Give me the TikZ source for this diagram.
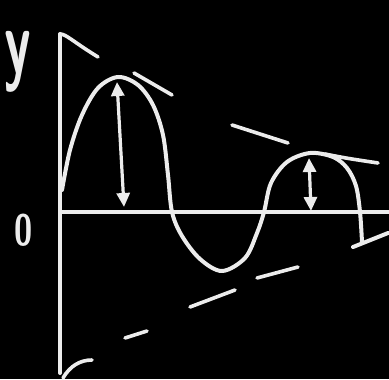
\documentclass[tikz,border=0pt]{standalone}
\usepackage{tikz}
\usetikzlibrary{arrows.meta}
\definecolor{chalk}{RGB}{236,236,236}

\begin{document}
\begin{tikzpicture}[
    x=0.5pt, y=-0.5pt,
    chalkline/.style={draw=chalk, line width=2pt, line cap=round, line join=round},
    envline/.style={chalkline, line width=1.8pt},
    ampl/.style={chalkline, line width=1.6pt, {Triangle[length=7pt,width=6.5pt]}-{Triangle[length=7pt,width=6.5pt]}},
    lbl/.style={text=chalk, font=\sffamily\bfseries, inner sep=0pt}
]

% board
\fill[black] (0,0) rectangle (389,379);
\useasboundingbox (0,0) rectangle (389,379);

% axes
\coordinate (ytop) at (60,34);
\coordinate (ybot) at (60,373);
\coordinate (xleft) at (60,212);
\coordinate (xright) at (389,212);
\draw[chalkline] (ybot) -- (ytop);
\draw[chalkline] (xleft) -- (xright);

\node[lbl, font=\sffamily\bfseries\fontsize{46}{46}\selectfont, xscale=0.58] (ylabel) at (18,62) {y};
\node[lbl, font=\sffamily\bfseries\fontsize{22}{22}\selectfont, xscale=0.75] (zero) at (24,230) {0};

% damped wave
\draw[chalkline] plot[smooth, tension=0.55] coordinates {
    (62,190) (70,150) (82,115) (98,88) (118,77) (138,85) (153,105)
    (163,135) (168,175) (172,212) (182,236) (200,259) (222,271)
    (245,258) (257,233) (264,212) (271,183) (287,162) (310,153)
    (333,157) (347,168) (356,186) (360,212) (362,242)};
\draw[chalkline] (353,247) -- (388,233);

% amplitude arrows
\coordinate (a1top) at (117,82);
\coordinate (a1bot) at (124,207);
\coordinate (a2top) at (309,158);
\coordinate (a2bot) at (311,211);
\draw[ampl] (a1top) -- (a1bot);
\draw[ampl] (a2top) -- (a2bot);

% upper envelope
\draw[envline] (ytop) .. controls (66,34) and (72,41) .. (98,57);
\draw[envline] (134,73) -- (172,95);
\draw[envline] (232,125) -- (288,143);
\draw[envline] (325,154) .. controls (345,158) .. (378,163);

% lower envelope
\draw[envline] (63,378) .. controls (70,366) and (80,360) .. (92,360);
\draw[envline] (125,338) -- (147,331);
\draw[envline] (190,307) -- (235,290);
\draw[envline] (257,278) -- (298,267);

\end{tikzpicture}
\end{document}
